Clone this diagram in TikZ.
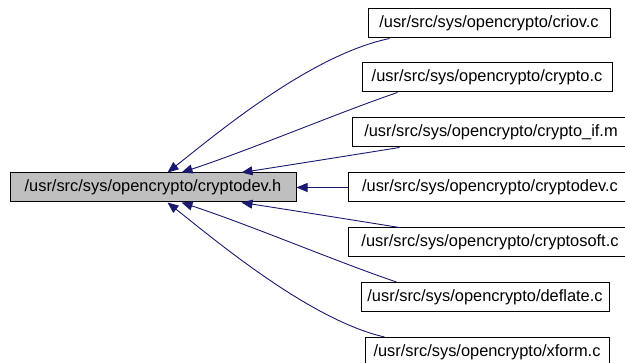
\documentclass[tikz,border=0pt]{standalone}
\usepackage{fontspec}
\setmainfont{Liberation Sans}
\usetikzlibrary{arrows.meta}
\definecolor{edgeblue}{HTML}{191970}
\definecolor{maingray}{HTML}{BFBFBF}
\begin{document}
\begin{tikzpicture}[
  x=1pt,y=-1pt,
  every node/.style={rectangle,draw,line width=1pt,inner sep=0pt,minimum height=29pt,font=\fontsize{16.4pt}{19pt}\selectfont},
  file/.style={fill=white},
  hdr/.style={fill=maingray},
  inc/.style={edgeblue,line width=0.9pt,-{Triangle[length=11pt,width=9pt]}}
]
  \useasboundingbox (0,0) rectangle (625,363);
  \node[hdr,minimum width=286pt]  (cdevh) at (153,187.5)   {/usr/src/sys/opencrypto/cryptodev.h};
  \node[file,minimum width=242pt] (criov) at (489,23.5)    {/usr/src/sys/opencrypto/criov.c};
  \node[file,minimum width=250pt] (crypto) at (487,77.5)   {/usr/src/sys/opencrypto/crypto.c};
  \node[file,minimum width=278pt] (cryif) at (491,132.5)   {/usr/src/sys/opencrypto/crypto\_if.m};
  \node[file,minimum width=284pt] (cdevc) at (490,187.5)   {/usr/src/sys/opencrypto/cryptodev.c};
  \node[file,minimum width=284pt] (csoft) at (490,242.5)   {/usr/src/sys/opencrypto/cryptosoft.c};
  \node[file,minimum width=248pt] (defl) at (485,297)      {/usr/src/sys/opencrypto/deflate.c};
  \node[file,minimum width=244pt] (xform) at (487,352)     {/usr/src/sys/opencrypto/xform.c};

  \draw[inc] ([xshift=22pt]criov.south west) .. controls (310,55) and (215,135) .. ([xshift=158pt]cdevh.north west);
  \draw[inc] ([xshift=36pt]crypto.south west) .. controls (340,112) and (250,150) .. ([xshift=172pt]cdevh.north west);
  \draw[inc] ([xshift=48pt]cryif.south west) .. controls (340,157) and (290,165) .. ([xshift=232pt]cdevh.north west);
  \draw[inc] (cdevc.west)--(cdevh.east);
  \draw[inc] ([xshift=52pt]csoft.north west) .. controls (340,218) and (290,210) .. ([xshift=232pt]cdevh.south west);
  \draw[inc] ([xshift=36pt]defl.north west) .. controls (340,263) and (250,225) .. ([xshift=172pt]cdevh.south west);
  \draw[inc] ([xshift=20pt]xform.north west) .. controls (310,320) and (215,240) .. ([xshift=158pt]cdevh.south west);
\end{tikzpicture}
\end{document}
